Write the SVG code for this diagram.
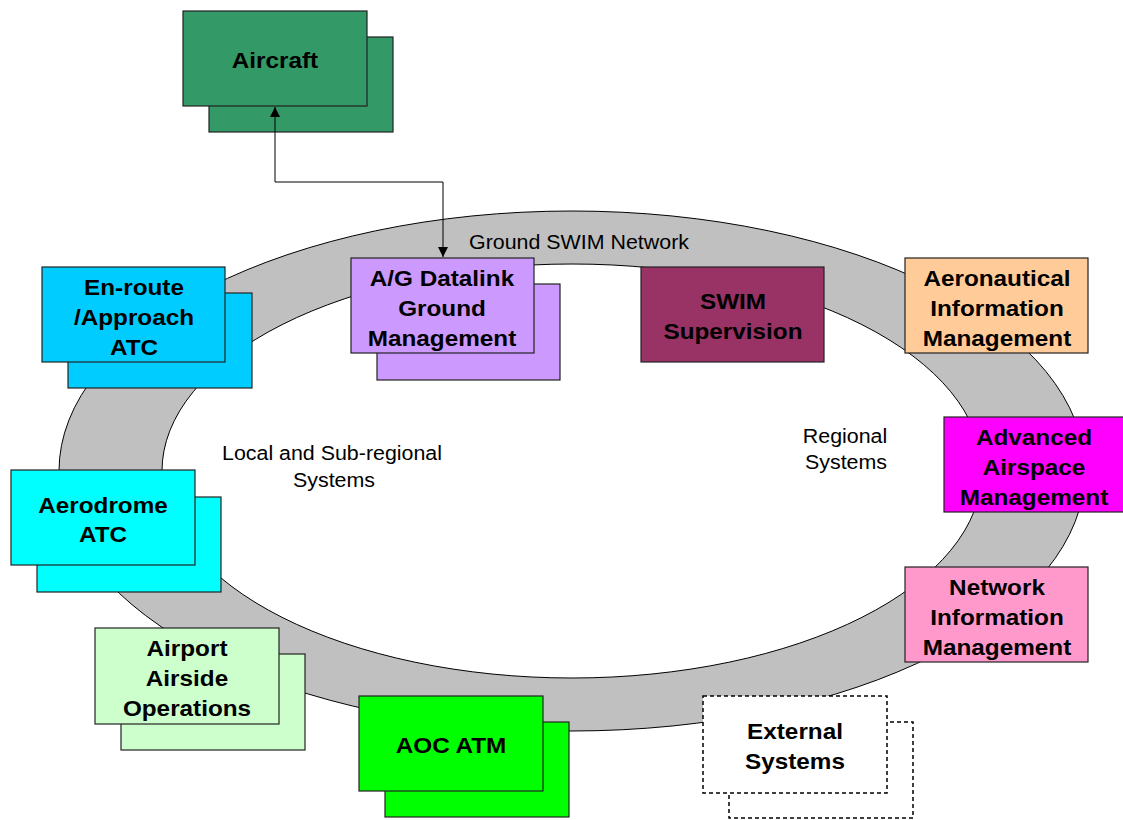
<svg xmlns="http://www.w3.org/2000/svg" width="1123" height="820" viewBox="0 0 1123 820">
<style>
.b{stroke:#222;stroke-width:1.2}
.d{fill:#fff;stroke:#000;stroke-width:1.5;stroke-dasharray:4 3}
.t{font-family:"Liberation Sans",Arial,sans-serif;font-weight:bold;font-size:22.5px;fill:#000;text-anchor:middle}
.r{font-family:"Liberation Sans",Arial,sans-serif;font-size:20px;fill:#000;text-anchor:middle}
.c{fill:none;stroke:#000;stroke-width:1}
</style>
<defs>
<marker id="ah" viewBox="0 0 10 10" refX="10" refY="5" markerWidth="10" markerHeight="10" markerUnits="userSpaceOnUse" orient="auto">
<path d="M0,0 L10,5 L0,10 z" fill="#000"/>
</marker>
</defs>
<rect width="1123" height="820" fill="#fff"/>
<g id="ring">
<path d="M59,471 A513,260 0 1 0 1085,471 A513,260 0 1 0 59,471 Z M162,471 A410,207 0 1 1 982,471 A410,207 0 1 1 162,471 Z" fill="#c0c0c0" fill-rule="evenodd" stroke="#000" stroke-width="1"/>
<text class="r" transform="translate(579 249) scale(1.07 1)">Ground SWIM Network</text>
<text class="r" transform="translate(332 460) scale(1.07 1)">Local and Sub-regional</text>
<text class="r" transform="translate(334 487) scale(1.07 1)">Systems</text>
<text class="r" transform="translate(845 443) scale(1.07 1)">Regional</text>
<text class="r" transform="translate(846 469) scale(1.07 1)">Systems</text>
</g>
<g id="aircraft">
<rect class="b" x="209" y="37" width="184" height="95" fill="#339966"/>
<rect class="b" x="183" y="11" width="184" height="95" fill="#339966"/>
<text class="t" transform="translate(275 68) scale(1.08 1)">Aircraft</text>
</g>
<g id="agdatalink">
<rect class="b" x="377" y="284" width="183" height="96" fill="#cc99ff"/>
<rect class="b" x="351" y="258" width="183" height="95" fill="#cc99ff"/>
<text class="t" transform="translate(442 286) scale(1.08 1)">A/G Datalink</text>
<text class="t" transform="translate(442 316) scale(1.08 1)">Ground</text>
<text class="t" transform="translate(442 346) scale(1.08 1)">Management</text>
</g>
<g id="swim">
<rect class="b" x="641" y="267" width="183" height="95" fill="#993366"/>
<text class="t" transform="translate(733 309) scale(1.08 1)">SWIM</text>
<text class="t" transform="translate(733 339) scale(1.08 1)">Supervision</text>
</g>
<g id="aim">
<rect class="b" x="905" y="258" width="183" height="95" fill="#ffcc99"/>
<text class="t" transform="translate(997 286) scale(1.08 1)">Aeronautical</text>
<text class="t" transform="translate(997 316) scale(1.08 1)">Information</text>
<text class="t" transform="translate(997 346) scale(1.08 1)">Management</text>
</g>
<g id="asm">
<rect class="b" x="944" y="417" width="184" height="95" fill="#ff00ff"/>
<text class="t" transform="translate(1034 445) scale(1.08 1)">Advanced</text>
<text class="t" transform="translate(1034 475) scale(1.08 1)">Airspace</text>
<text class="t" transform="translate(1034 505) scale(1.08 1)">Management</text>
</g>
<g id="nim">
<rect class="b" x="905" y="567" width="183" height="95" fill="#ff99cc"/>
<text class="t" transform="translate(997 595) scale(1.08 1)">Network</text>
<text class="t" transform="translate(997 625) scale(1.08 1)">Information</text>
<text class="t" transform="translate(997 655) scale(1.08 1)">Management</text>
</g>
<g id="external">
<rect class="d" x="729" y="722" width="184" height="96"/>
<rect class="d" x="703" y="696" width="184" height="97"/>
<text class="t" transform="translate(795 739) scale(1.08 1)">External</text>
<text class="t" transform="translate(795 769) scale(1.08 1)">Systems</text>
</g>
<g id="enroute">
<rect class="b" x="68" y="293" width="184" height="95" fill="#00ccff"/>
<rect class="b" x="42" y="267" width="183" height="95" fill="#00ccff"/>
<text class="t" transform="translate(134 295) scale(1.08 1)">En-route</text>
<text class="t" transform="translate(134 325) scale(1.08 1)">/Approach</text>
<text class="t" transform="translate(134 355) scale(1.08 1)">ATC</text>
</g>
<g id="aerodrome">
<rect class="b" x="37" y="497" width="184" height="95" fill="#00ffff"/>
<rect class="b" x="11" y="470" width="184" height="95" fill="#00ffff"/>
<text class="t" transform="translate(103 513) scale(1.08 1)">Aerodrome</text>
<text class="t" transform="translate(103 542) scale(1.08 1)">ATC</text>
</g>
<g id="airport">
<rect class="b" x="121" y="654" width="184" height="96" fill="#ccffcc"/>
<rect class="b" x="95" y="628" width="184" height="96" fill="#ccffcc"/>
<text class="t" transform="translate(187 656) scale(1.08 1)">Airport</text>
<text class="t" transform="translate(187 686) scale(1.08 1)">Airside</text>
<text class="t" transform="translate(187 716) scale(1.08 1)">Operations</text>
</g>
<g id="aoc">
<rect class="b" x="385" y="722" width="184" height="95" fill="#00ff00"/>
<rect class="b" x="359" y="696" width="184" height="95" fill="#00ff00"/>
<text class="t" transform="translate(451 753) scale(1.08 1)">AOC ATM</text>
</g>
<g id="connectors">
<path class="c" d="M275,182 L275,107" marker-end="url(#ah)"/>
<path class="c" d="M275,182 L443,182 L443,257" marker-end="url(#ah)"/>
</g>
</svg>
